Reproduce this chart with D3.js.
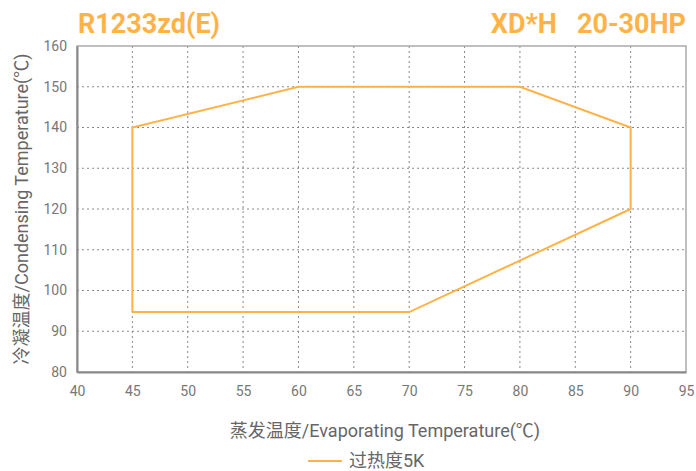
<!DOCTYPE html>
<html>
<head>
<meta charset="utf-8">
<script src="https://cdn.jsdelivr.net/npm/d3@7"></script>
<style>
  body { margin: 0; background: #fff; }
  svg { display: block; }
</style>
</head>
<body>
<script>
// data
const xTicks = [40, 45, 50, 55, 60, 65, 70, 75, 80, 85, 90, 95]
const yTicks = [80, 90, 100, 110, 120, 130, 140, 150, 160]
const evap = [45, 45, 60, 80, 90, 90, 70, 45]
const cond = [94.7, 140, 150, 150, 140, 120, 94.7, 94.7]
const seriesName = "过热度5K"

const W = 696, H = 471
const margin = { top: 46, right: 10, bottom: 99, left: 77 }
const orange = "#FFB347"

let svg = d3.select("body").append("svg")
    .attr("width", W)
    .attr("height", H)

let x = d3.scaleLinear().domain([40, 95]).range([margin.left, W - margin.right])
let y = d3.scaleLinear().domain([80, 160]).range([H - margin.bottom, margin.top])

// grid
svg.append("g")
    .selectAll("line")
    .data(xTicks.slice(1, -1))
    .enter().append("line")
    .attr("x1", d => x(d)).attr("x2", d => x(d))
    .attr("y1", y(160)).attr("y2", y(80))
    .attr("stroke", "#888").attr("stroke-width", 1)
    .attr("stroke-dasharray", "2,3")

svg.append("g")
    .selectAll("line")
    .data(yTicks.slice(1, -1))
    .enter().append("line")
    .attr("x1", x(40)).attr("x2", x(95))
    .attr("y1", d => y(d)).attr("y2", d => y(d))
    .attr("stroke", "#888").attr("stroke-width", 1)
    .attr("stroke-dasharray", "2,3")

// frame
svg.append("rect")
    .attr("x", x(40)).attr("y", y(160))
    .attr("width", x(95) - x(40)).attr("height", y(80) - y(160))
    .attr("fill", "none").attr("stroke", "#aaa").attr("stroke-width", 1.5)

// axes
let xAxis = d3.axisBottom(x).tickValues(xTicks).tickSize(0).tickPadding(14)
let yAxis = d3.axisLeft(y).tickValues(yTicks).tickSize(0).tickPadding(10)

let gx = svg.append("g")
    .attr("transform", "translate(0," + y(80) + ")")
    .call(xAxis)
let gy = svg.append("g")
    .attr("transform", "translate(" + x(40) + ",0)")
    .call(yAxis)

;[gx, gy].forEach(g => {
    g.select(".domain").attr("stroke", "#888").attr("stroke-width", 2)
    g.selectAll("text")
        .attr("fill", "#777")
        .style("font-family", "Roboto, 'Noto Sans', sans-serif")
        .style("font-size", "14px")
})

// envelope
let line = d3.line()
    .x((d, i) => x(evap[i]))
    .y((d, i) => y(cond[i]))

svg.append("path")
    .datum(evap)
    .attr("d", line)
    .attr("fill", "none")
    .attr("stroke", orange)
    .attr("stroke-width", 2)

// titres
svg.append("text")
    .attr("x", 78).attr("y", 33)
    .attr("fill", orange)
    .style("font-family", "Roboto, 'Noto Sans', sans-serif")
    .style("font-weight", "bold")
    .style("font-size", "27px")
    .text("R1233zd(E)")

svg.append("text")
    .attr("x", 686).attr("y", 33)
    .attr("text-anchor", "end")
    .attr("fill", orange)
    .attr("xml:space", "preserve")
    .style("white-space", "pre")
    .style("font-family", "Roboto, 'Noto Sans', sans-serif")
    .style("font-weight", "bold")
    .style("font-size", "27px")
    .text("XD*H   20-30HP")

svg.append("text")
    .attr("x", 385).attr("y", 437)
    .attr("text-anchor", "middle")
    .attr("fill", "#666")
    .style("font-family", "Roboto, 'Noto Sans CJK SC', sans-serif")
    .style("font-size", "18px")
    .text("蒸发温度/Evaporating Temperature(℃)")

svg.append("text")
    .attr("transform", "translate(28," + ((y(80) + y(160)) / 2) + ") rotate(-90)")
    .attr("text-anchor", "middle")
    .attr("fill", "#666")
    .style("font-family", "Roboto, 'Noto Sans CJK SC', sans-serif")
    .style("font-size", "18px")
    .text("冷凝温度/Condensing Temperature(℃)")

// legende
svg.append("line")
    .attr("x1", 308).attr("x2", 342)
    .attr("y1", 461).attr("y2", 461)
    .attr("stroke", orange).attr("stroke-width", 2)

svg.append("text")
    .attr("x", 349).attr("y", 467)
    .attr("fill", "#666")
    .style("font-family", "Roboto, 'Noto Sans CJK SC', sans-serif")
    .style("font-size", "18px")
    .text(seriesName)
</script>
</body>
</html>
